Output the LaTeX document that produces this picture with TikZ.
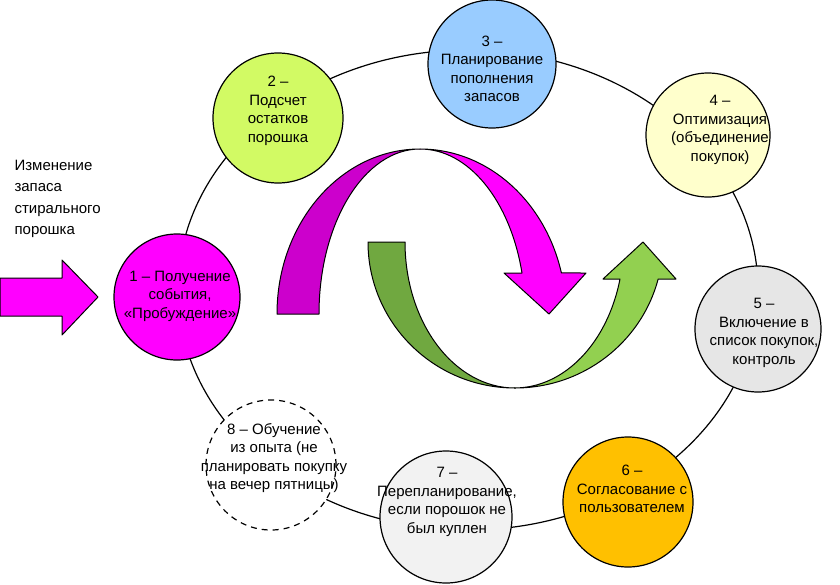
\documentclass[tikz,border=0pt]{standalone}
\usepackage{fontspec}
\setmainfont{Liberation Sans}
\usepackage{xcolor}
\usetikzlibrary{arrows.meta,positioning,calc,shapes.geometric}
\definecolor{magfill}{RGB}{255,0,255}
\definecolor{magdark}{RGB}{204,0,204}
\definecolor{greendark}{RGB}{112,168,64}
\definecolor{greenlight}{RGB}{146,208,80}
\definecolor{stagetwo}{RGB}{210,250,100}
\definecolor{stagethree}{RGB}{153,204,255}
\definecolor{stagefour}{RGB}{255,255,204}
\definecolor{stagefive}{RGB}{230,230,230}
\definecolor{stagesix}{RGB}{255,192,0}
\definecolor{stageseven}{RGB}{242,242,242}

\begin{document}
\begin{tikzpicture}[x=1pt,y=-1pt,
  stage/.style={circle,draw=black,line width=1.2pt,inner sep=0pt},
  stagetext/.style={align=center,font=\fontsize{15}{18.5}\selectfont},
  ribbon/.style={draw=black,line width=1pt,line join=round}]
\useasboundingbox (0,0) rectangle (840,584);
\fill[white] (0,0) rectangle (840,584);
\draw[line width=1.2pt,fill=white] (468,290) ellipse [x radius=290,y radius=240];

\draw[ribbon,fill=magdark] (277,314) arc[start angle=180,end angle=270,x radius=143,y radius=165]
  arc[start angle=270,end angle=180,x radius=101,y radius=165] -- cycle;
\draw[ribbon,fill=magfill] (420,149) arc[start angle=270,end angle=345.6,x radius=146,y radius=165]
  -- (586,273) -- (549,314) -- (504,273) -- (522,273)
  arc[start angle=345.6,end angle=270,x radius=105,y radius=165] -- cycle;
\draw[ribbon,fill=greendark] (368,242) arc[start angle=180,end angle=90,x radius=147,y radius=146]
  arc[start angle=90,end angle=180,x radius=110,y radius=146] -- cycle;
\draw[ribbon,fill=greenlight] (515,388) arc[start angle=90,end angle=14.7,x radius=148,y radius=146]
  -- (676,279) -- (643,242) -- (603,279) -- (620,279)
  arc[start angle=14.7,end angle=90,x radius=109,y radius=146] -- cycle;

\draw[ribbon,fill=magfill] (0,278) -- (62,278) -- (62,260) -- (98,297) -- (62,335) -- (62,316) -- (0,316) -- cycle;
\node[anchor=west,align=left,font=\fontsize{15}{21.3}\selectfont] (change) at (11,199) {Изменение\\запаса\\стирального\\порошка};

\node[stage,fill=magfill,minimum size=126pt] (s1) at (177,297) {};
\node[stage,fill=stagetwo,minimum size=130pt] (s2) at (278,118) {};
\node[stage,fill=stagethree,minimum size=128pt] (s3) at (492,64) {};
\node[stage,fill=stagefour,minimum size=124pt] (s4) at (708,135) {};
\node[stage,fill=stagefive,minimum size=126pt] (s5) at (758,329) {};
\node[stage,fill=stagesix,minimum size=130pt] (s6) at (628,502) {};
\node[stage,fill=stageseven,minimum size=132pt] (s7) at (446,517) {};
\node[stage,fill=white,dash pattern=on 6pt off 5pt,minimum size=130pt] (s8) at (271,465) {};

\node[stagetext] (t1) at (180,296) {1 – Получение\\события,\\«Пробуждение»};
\node[stagetext] (t2) at (278,111) {2 –\\Подсчет\\остатков\\порошка};
\node[stagetext] (t3) at (492,69) {3 –\\Планирование\\пополнения\\запасов};
\node[stagetext] (t4) at (720,130) {4 –\\Оптимизация\\(объединение\\покупок)};
\node[stagetext] (t5) at (764,333) {5 –\\Включение в\\список покупок,\\контроль};
\node[stagetext] (t6) at (632,489) {6 –\\Согласование с\\пользователем};
\node[stagetext] (t7) at (447,502) {7 –\\Перепланирование,\\если порошок не\\был куплен};
\node[stagetext] (t8) at (274,458) {8 – Обучение\\из опыта (не\\планировать покупку\\на вечер пятницы)};
\end{tikzpicture}
\end{document}
